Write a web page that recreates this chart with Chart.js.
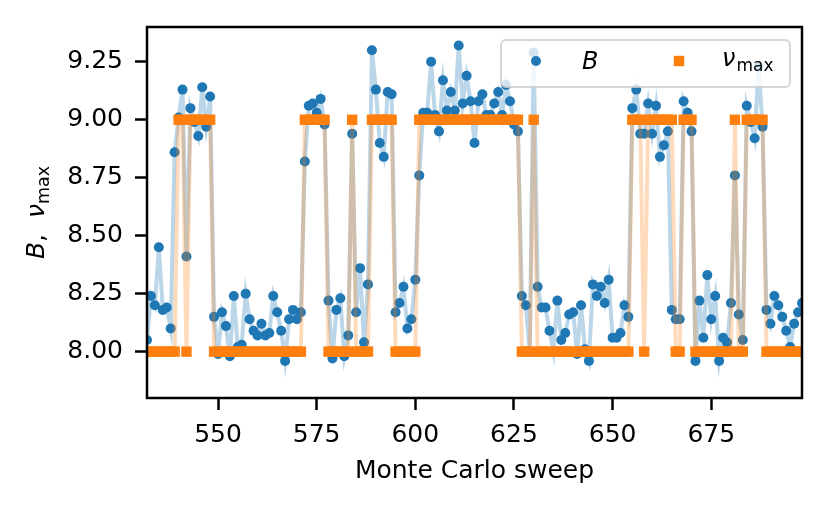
<!DOCTYPE html>
<html>
<head>
<meta charset="utf-8">
<script src="https://cdn.jsdelivr.net/npm/chart.js@4/dist/chart.umd.min.js"></script>
<style>
  html, body { margin: 0; padding: 0; background: #fff; }
  #wrap { width: 830px; height: 513px; position: relative; }
</style>
</head>
<body>
<div id="wrap"><canvas id="chart"></canvas></div>
<script>
// Datos (un valor por barrido de Monte Carlo)
const sweeps = [
  532, 533, 534, 535, 536, 537, 538, 539, 540, 541,
  542, 543, 544, 545, 546, 547, 548, 549, 550, 551,
  552, 553, 554, 555, 556, 557, 558, 559, 560, 561,
  562, 563, 564, 565, 566, 567, 568, 569, 570, 571,
  572, 573, 574, 575, 576, 577, 578, 579, 580, 581,
  582, 583, 584, 585, 586, 587, 588, 589, 590, 591,
  592, 593, 594, 595, 596, 597, 598, 599, 600, 601,
  602, 603, 604, 605, 606, 607, 608, 609, 610, 611,
  612, 613, 614, 615, 616, 617, 618, 619, 620, 621,
  622, 623, 624, 625, 626, 627, 628, 629, 630, 631,
  632, 633, 634, 635, 636, 637, 638, 639, 640, 641,
  642, 643, 644, 645, 646, 647, 648, 649, 650, 651,
  652, 653, 654, 655, 656, 657, 658, 659, 660, 661,
  662, 663, 664, 665, 666, 667, 668, 669, 670, 671,
  672, 673, 674, 675, 676, 677, 678, 679, 680, 681,
  682, 683, 684, 685, 686, 687, 688, 689, 690, 691,
  692, 693, 694, 695, 696, 697, 698
];

const bValues = [
  8.05, 8.24, 8.20, 8.45, 8.18, 8.19, 8.10, 8.86, 9.01, 9.13,
  8.41, 9.05, 8.99, 8.93, 9.14, 8.97, 9.10, 8.15, 7.99, 8.17,
  8.11, 7.98, 8.24, 8.02, 8.03, 8.25, 8.14, 8.09, 8.07, 8.12,
  8.07, 8.08, 8.24, 8.17, 8.09, 7.96, 8.14, 8.18, 8.14, 8.17,
  8.82, 9.06, 9.07, 9.03, 9.09, 8.98, 8.22, 7.97, 8.18, 8.23,
  7.98, 8.07, 8.94, 8.17, 8.36, 8.04, 8.29, 9.30, 9.13, 8.90,
  8.84, 9.12, 9.11, 8.17, 8.21, 8.28, 8.10, 8.14, 8.31, 8.76,
  9.03, 9.03, 9.25, 9.02, 8.95, 9.17, 9.04, 9.12, 9.04, 9.32,
  9.07, 9.19, 9.08, 8.90, 9.08, 9.11, 9.02, 9.02, 9.07, 9.12,
  9.02, 9.15, 9.08, 8.98, 8.95, 8.24, 8.20, 8.00, 9.29, 8.28,
  8.19, 8.19, 8.09, 8.00, 8.22, 8.05, 8.08, 8.16, 8.17, 7.99,
  8.20, 8.01, 7.96, 8.29, 8.24, 8.28, 8.21, 8.31, 8.06, 8.06,
  8.08, 8.20, 8.15, 9.05, 9.13, 8.94, 8.94, 9.07, 8.94, 9.06,
  8.84, 8.89, 8.95, 8.18, 8.14, 8.14, 9.08, 9.03, 8.95, 7.96,
  8.22, 8.06, 8.33, 8.14, 8.24, 7.96, 8.06, 8.04, 8.21, 8.76,
  8.16, 8.05, 9.06, 8.99, 8.92, 9.23, 8.97, 8.18, 8.12, 8.24,
  8.20, 8.15, 8.09, 8.02, 8.12, 8.17, 8.21
];

const nuMax = [
  8, 8, 8, 8, 8, 8, 8, 8, 9, 9,
  8, 9, 9, 9, 9, 9, 9, 8, 8, 8,
  8, 8, 8, 8, 8, 8, 8, 8, 8, 8,
  8, 8, 8, 8, 8, 8, 8, 8, 8, 8,
  9, 9, 9, 9, 9, 9, 8, 8, 8, 8,
  8, 8, 9, 8, 8, 8, 8, 9, 9, 9,
  9, 9, 9, 8, 8, 8, 8, 8, 8, 9,
  9, 9, 9, 9, 9, 9, 9, 9, 9, 9,
  9, 9, 9, 9, 9, 9, 9, 9, 9, 9,
  9, 9, 9, 9, 9, 8, 8, 8, 9, 8,
  8, 8, 8, 8, 8, 8, 8, 8, 8, 8,
  8, 8, 8, 8, 8, 8, 8, 8, 8, 8,
  8, 8, 8, 9, 9, 9, 8, 9, 9, 9,
  9, 9, 9, 9, 8, 8, 9, 9, 9, 8,
  8, 8, 8, 8, 8, 8, 8, 8, 8, 9,
  8, 8, 9, 9, 9, 9, 9, 8, 8, 8,
  8, 8, 8, 8, 8, 8, 8
];

const xTicks = [550, 575, 600, 625, 650, 675];
const yTicks = [8.00, 8.25, 8.50, 8.75, 9.00, 9.25];

const BLUE = '#1f77b4';
const ORANGE = '#ff7f0e';
const FONT = '"DejaVu Sans", "Liberation Sans", sans-serif';

// Marco, leyenda y título del eje y (con subíndice) dibujados a mano
const extras = {
  id: 'extras',
  afterDraw(chart) {
    const { ctx, chartArea: a } = chart;
    ctx.save();

    // leyenda dentro del área, arriba a la derecha
    const w = 289, h = 47;
    const lx = a.right - 12 - w, ly = a.top + 13;
    ctx.beginPath();
    ctx.roundRect(lx, ly, w, h, 5);
    ctx.fillStyle = 'rgba(255,255,255,0.8)';
    ctx.fill();
    ctx.lineWidth = 2;
    ctx.strokeStyle = 'rgba(204,204,204,0.8)';
    ctx.stroke();

    const cy = ly + 21;
    ctx.fillStyle = BLUE;
    ctx.beginPath();
    ctx.arc(lx + 35, cy, 5, 0, Math.PI * 2);
    ctx.fill();
    ctx.fillStyle = ORANGE;
    ctx.fillRect(lx + 178 - 5.2, cy - 5.2, 10.4, 10.4);

    ctx.fillStyle = '#000';
    ctx.textBaseline = 'alphabetic';
    ctx.textAlign = 'left';
    ctx.font = 'italic 24px ' + FONT;
    ctx.fillText('B', lx + 81, cy + 8);
    ctx.fillText('ν', lx + 221, cy + 5);
    const nuW = ctx.measureText('ν').width;
    ctx.font = '17px ' + FONT;
    ctx.fillText('max', lx + 221 + nuW + 1, cy + 10);

    // marco completo de los ejes
    ctx.strokeStyle = '#000';
    ctx.lineWidth = 2.5;
    ctx.strokeRect(a.left, a.top, a.right - a.left, a.bottom - a.top);

    // título del eje y: B,  ν_max
    ctx.translate(44, (a.top + a.bottom) / 2);
    ctx.rotate(-Math.PI / 2);
    const parts = [
      { t: 'B', f: 'italic 25px ' + FONT, dy: 0 },
      { t: ',', f: '25px ' + FONT, dy: 0 },
      { t: '  ', f: '25px ' + FONT, dy: 0 },
      { t: 'ν', f: 'italic 25px ' + FONT, dy: 0 },
      { t: 'max', f: '17.5px ' + FONT, dy: 5 }
    ];
    let total = 0;
    parts.forEach(p => { ctx.font = p.f; p.w = ctx.measureText(p.t).width; total += p.w; });
    let x = -total / 2;
    parts.forEach(p => {
      ctx.font = p.f;
      ctx.fillText(p.t, x, p.dy);
      x += p.w;
    });

    ctx.restore();
  }
};

const ctx = document.getElementById('chart');
new Chart(ctx, {
  type: 'line',
  data: {
    datasets: [
      {
        label: 'B',
        data: sweeps.map((s, i) => ({ x: s, y: bValues[i] })),
        borderColor: 'rgba(31,119,180,0.3)',
        borderWidth: 4,
        pointStyle: 'circle',
        pointRadius: 5,
        pointBackgroundColor: BLUE,
        pointBorderWidth: 0,
        tension: 0,
        clip: 0,
        order: 2
      },
      {
        label: 'ν max',
        data: sweeps.map((s, i) => ({ x: s, y: nuMax[i] })),
        borderColor: 'rgba(255,127,14,0.28)',
        borderWidth: 4,
        pointStyle: 'rect',
        pointRadius: 7.35,
        pointBackgroundColor: ORANGE,
        pointBorderWidth: 0,
        tension: 0,
        clip: 0,
        order: 1
      }
    ]
  },
  options: {
    responsive: true,
    maintainAspectRatio: false,
    animation: false,
    layout: { padding: { top: 27, right: 28, left: 0, bottom: 0 } },
    plugins: {
      legend: { display: false },
      tooltip: { enabled: false }
    },
    scales: {
      x: {
        type: 'linear',
        min: 532,
        max: 698,
        afterBuildTicks: s => { s.ticks = xTicks.map(v => ({ value: v })); },
        afterFit: s => { s.height = 115; },
        grid: { drawOnChartArea: false, tickLength: 12, tickColor: '#000', tickWidth: 2.5 },
        border: { display: false },
        ticks: {
          color: '#000', padding: 10, maxRotation: 0,
          font: { family: FONT, size: 25 },
          callback: v => String(v)
        },
        title: {
          display: true, text: 'Monte Carlo sweep', color: '#000',
          font: { family: FONT, size: 25 },
          padding: { top: 0, bottom: 27 }
        }
      },
      y: {
        min: 7.80,
        max: 9.40,
        afterBuildTicks: s => { s.ticks = yTicks.map(v => ({ value: v })); },
        afterFit: s => { s.width = 147; },
        grid: { drawOnChartArea: false, tickLength: 12, tickColor: '#000', tickWidth: 2.5 },
        border: { display: false },
        ticks: {
          color: '#000', padding: 12,
          font: { family: FONT, size: 25 },
          callback: v => v.toFixed(2)
        }
      }
    }
  },
  plugins: [extras]
});
</script>
</body>
</html>
